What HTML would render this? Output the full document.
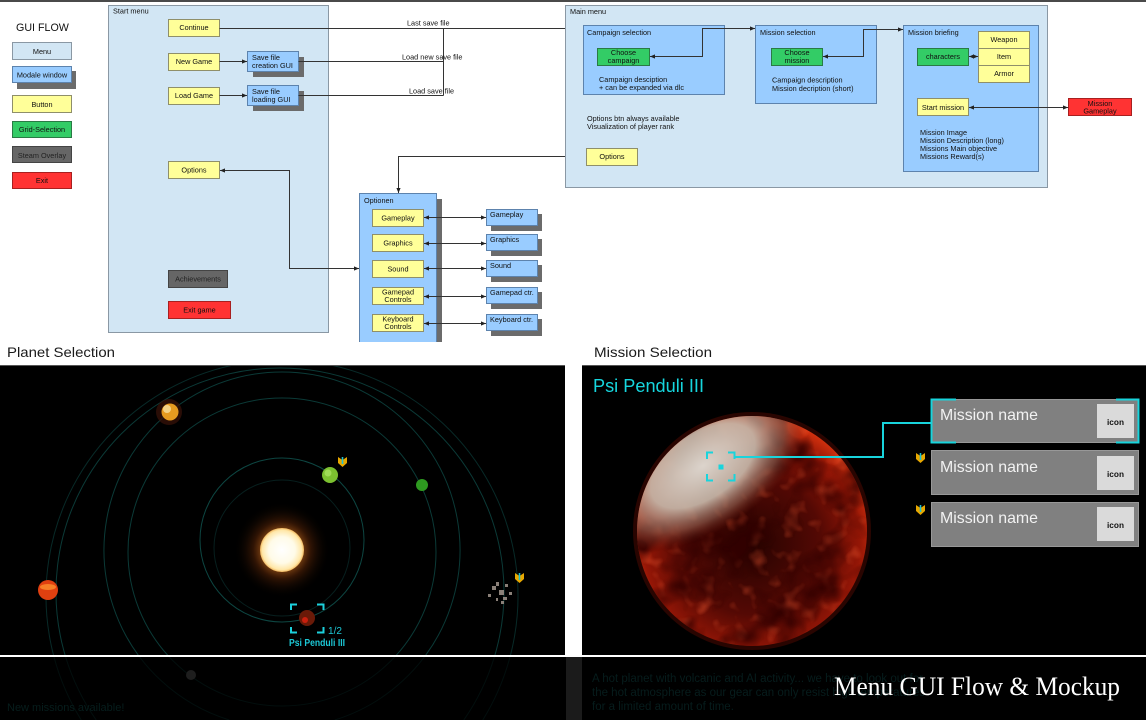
<!DOCTYPE html>
<html><head><meta charset="utf-8">
<style>
html,body{margin:0;padding:0;background:#fff;width:1146px;height:720px;overflow:hidden;}
svg{display:block;position:absolute;left:0;top:0;}
text{font-family:"Liberation Sans",Arial,sans-serif;}
.s{font-size:7.3px;fill:#111;}
.c{text-anchor:middle;}
.mn{fill:#d2e6f4;stroke:#8a98a4;stroke-width:1;}
.md{fill:#99ccff;stroke:#5d83ad;stroke-width:1;}
.sh{fill:#6b6b6b;}
.bt{fill:#ffff99;stroke:#8f8f6a;stroke-width:1;}
.gr{fill:#33cc66;stroke:#2a7a45;stroke-width:1;}
.st{fill:#666;stroke:#444;stroke-width:1;}
.ex{fill:#ff3333;stroke:#a82020;stroke-width:1;}
.ln{fill:none;stroke:#333;stroke-width:1;}
.orb{fill:none;stroke:#0b3a37;stroke-width:1;}
</style></head><body>
<svg width="1146" height="720" viewBox="0 0 1146 720" xmlns="http://www.w3.org/2000/svg">
<defs>
<marker id="a" viewBox="0 0 6 6" refX="6" refY="3" markerWidth="5" markerHeight="5" markerUnits="userSpaceOnUse" orient="auto-start-reverse"><path d="M0,0.5 L6,3 L0,5.5z" fill="#222"/></marker>
<radialGradient id="sun" cx="0.5" cy="0.5" r="0.5">
<stop offset="0" stop-color="#ffffff"/><stop offset="0.6" stop-color="#fffbe8"/><stop offset="0.9" stop-color="#ffe7a8"/><stop offset="1" stop-color="#f2b860"/></radialGradient>
<radialGradient id="glow" cx="0.5" cy="0.5" r="0.5">
<stop offset="0.3" stop-color="#ff9a30" stop-opacity="0.7"/><stop offset="0.6" stop-color="#c05010" stop-opacity="0.25"/><stop offset="1" stop-color="#000" stop-opacity="0"/></radialGradient>
<radialGradient id="pg" cx="0.5" cy="0.56" r="0.55">
<stop offset="0" stop-color="#260301"/><stop offset="0.55" stop-color="#540904"/><stop offset="0.85" stop-color="#941606"/><stop offset="1" stop-color="#d0300e"/></radialGradient>
<radialGradient id="cap" cx="0.5" cy="0.5" r="0.5">
<stop offset="0" stop-color="#dcd4cc" stop-opacity="1"/><stop offset="0.5" stop-color="#c6b8aa" stop-opacity="0.92"/><stop offset="0.78" stop-color="#9a6e5c" stop-opacity="0.55"/><stop offset="1" stop-color="#7a2a18" stop-opacity="0"/></radialGradient>
<filter id="texD" x="0" y="0" width="1" height="1"><feTurbulence type="fractalNoise" baseFrequency="0.025" numOctaves="3" seed="2"/><feColorMatrix values="0 0 0 0 0.03  0 0 0 0 0  0 0 0 0 0  3 0 0 0 -1.3"/><feComposite in2="SourceGraphic" operator="in"/></filter>
<filter id="texR" x="0" y="0" width="1" height="1"><feTurbulence type="fractalNoise" baseFrequency="0.06" numOctaves="2" seed="7"/><feColorMatrix values="0 0 0 0 0.85  0 0 0 0 0.1  0 0 0 0 0.03  2.4 0 0 0 -1.3"/><feComposite in2="SourceGraphic" operator="in"/></filter>
<clipPath id="pl"><rect x="0" y="366" width="565" height="289"/></clipPath>
<clipPath id="bl"><rect x="0" y="657" width="565" height="63"/></clipPath>
<clipPath id="pc"><circle cx="752" cy="531" r="115"/></clipPath>
</defs>

<!-- top border -->
<rect x="0" y="0" width="1146" height="2" fill="#4a4a4a"/>

<!-- Legend -->
<text x="16" y="31" font-size="10.7" fill="#111">GUI FLOW</text>
<rect class="mn" x="12.5" y="42.5" width="59" height="17"/><text class="s c" x="42" y="54">Menu</text>
<rect class="sh" x="17" y="71" width="59" height="18"/>
<rect class="md" x="12.5" y="66.5" width="59" height="16"/><text class="s c" x="42" y="77.5">Modale window</text>
<rect class="bt" x="12.5" y="95.5" width="59" height="17"/><text class="s c" x="42" y="107">Button</text>
<rect class="gr" x="12.5" y="121.5" width="59" height="16"/><text class="s c" x="42" y="132">Grid-Selection</text>
<rect class="st" x="12.5" y="146.5" width="59" height="16"/><text class="s c" x="42" y="158" style="fill:#222">Steam Overlay</text>
<rect class="ex" x="12.5" y="172.5" width="59" height="16"/><text class="s c" x="42" y="183">Exit</text>

<!-- Start menu -->
<rect class="mn" x="108.5" y="5.5" width="220" height="327"/>
<text class="s" x="113" y="13.5">Start menu</text>
<rect class="bt" x="168.5" y="19.5" width="51" height="17"/><text class="s c" x="194" y="30">Continue</text>
<rect class="bt" x="168.5" y="53.5" width="51" height="17"/><text class="s c" x="194" y="64">New Game</text>
<rect class="bt" x="168.5" y="87.5" width="51" height="17"/><text class="s c" x="194" y="98">Load Game</text>
<rect class="sh" x="253" y="57" width="51" height="20"/>
<rect class="md" x="247.5" y="51.5" width="51" height="20"/>
<text class="s" x="252" y="60">Save file</text><text class="s" x="252" y="68">creation GUI</text>
<rect class="sh" x="253" y="91" width="51" height="20"/>
<rect class="md" x="247.5" y="85.5" width="51" height="20"/>
<text class="s" x="252" y="94">Save file</text><text class="s" x="252" y="102">loading GUI</text>
<rect class="bt" x="168.5" y="161.5" width="51" height="17"/><text class="s c" x="194" y="172.5">Options</text>
<rect class="st" x="168.5" y="270.5" width="59" height="17"/><text class="s c" x="198" y="281.5" style="fill:#222">Achievements</text>
<rect class="ex" x="168.5" y="301.5" width="62" height="17"/><text class="s c" x="199.5" y="312.5">Exit game</text>

<!-- Connectors start menu -->
<path class="ln" d="M219.5,28.5 H583" marker-end="url(#a)"/>
<path class="ln" d="M219.5,61.5 H247" marker-end="url(#a)"/>
<path class="ln" d="M219.5,95.5 H247" marker-end="url(#a)"/>
<path class="ln" d="M298.5,61.5 H443.5 M298.5,95.5 H443.5 M443.5,28.5 V95.5"/>
<text class="s" x="407" y="25.5">Last save file</text>
<text class="s" x="402" y="59.5">Load new save file</text>
<text class="s" x="409" y="93.5">Load save file</text>
<path class="ln" d="M220,170.5 H289.5 V268.5 H359" marker-start="url(#a)" marker-end="url(#a)"/>
<path class="ln" d="M586,156.5 H398.5 V193" marker-start="url(#a)" marker-end="url(#a)"/>

<!-- Optionen -->
<rect class="sh" x="365" y="199" width="77" height="143"/>
<path d="M359.5,342 V193.5 H436.5 V342" fill="#99ccff" stroke="#5d83ad"/>
<text class="s" x="364" y="203">Optionen</text>
<rect class="bt" x="372.5" y="209.5" width="51" height="17"/><text class="s c" x="398" y="220.5">Gameplay</text>
<rect class="bt" x="372.5" y="234.5" width="51" height="17"/><text class="s c" x="398" y="245.5">Graphics</text>
<rect class="bt" x="372.5" y="260.5" width="51" height="17"/><text class="s c" x="398" y="271.5">Sound</text>
<rect class="bt" x="372.5" y="287.5" width="51" height="17"/><text class="s c" x="398" y="294.5">Gamepad</text><text class="s c" x="398" y="302">Controls</text>
<rect class="bt" x="372.5" y="314.5" width="51" height="17"/><text class="s c" x="398" y="321.5">Keyboard</text><text class="s c" x="398" y="329">Controls</text>
<g>
<rect class="sh" x="491" y="214" width="51" height="17"/><rect class="md" x="486.5" y="209.5" width="51" height="16"/><text class="s" x="490" y="217">Gameplay</text>
<rect class="sh" x="491" y="239" width="51" height="17"/><rect class="md" x="486.5" y="234.5" width="51" height="16"/><text class="s" x="490" y="242">Graphics</text>
<rect class="sh" x="491" y="265" width="51" height="17"/><rect class="md" x="486.5" y="260.5" width="51" height="16"/><text class="s" x="490" y="268">Sound</text>
<rect class="sh" x="491" y="292" width="51" height="17"/><rect class="md" x="486.5" y="287.5" width="51" height="16"/><text class="s" x="490" y="295">Gamepad ctr.</text>
<rect class="sh" x="491" y="319" width="51" height="17"/><rect class="md" x="486.5" y="314.5" width="51" height="16"/><text class="s" x="490" y="322">Keyboard ctr.</text>
</g>
<path class="ln" d="M424,217.5 H486" marker-start="url(#a)" marker-end="url(#a)"/>
<path class="ln" d="M424,243.5 H486" marker-start="url(#a)" marker-end="url(#a)"/>
<path class="ln" d="M424,268.5 H486" marker-start="url(#a)" marker-end="url(#a)"/>
<path class="ln" d="M424,296.5 H486" marker-start="url(#a)" marker-end="url(#a)"/>
<path class="ln" d="M424,323.5 H486" marker-start="url(#a)" marker-end="url(#a)"/>

<!-- Main menu -->
<rect class="mn" x="565.5" y="5.5" width="482" height="182"/>
<text class="s" x="570" y="14">Main menu</text>
<rect class="md" x="583.5" y="25.5" width="141" height="69"/>
<text class="s" x="587" y="35">Campaign selection</text>
<rect class="gr" x="597.5" y="48.5" width="52" height="17"/>
<text class="s c" x="623.5" y="55">Choose</text><text class="s c" x="623.5" y="63">campaign</text>
<text class="s" x="599" y="82">Campaign desciption</text>
<text class="s" x="599" y="90">+ can be expanded via dlc</text>
<text class="s" x="587" y="121">Options btn always available</text>
<text class="s" x="587" y="129">Visualization of player rank</text>
<rect class="bt" x="586.5" y="148.5" width="51" height="17"/><text class="s c" x="612" y="159">Options</text>
<path class="ln" d="M755,28.5 H702.5 V56.5 H650" marker-start="url(#a)" marker-end="url(#a)"/>

<rect class="md" x="755.5" y="25.5" width="121" height="78"/>
<text class="s" x="760" y="35">Mission selection</text>
<rect class="gr" x="771.5" y="48.5" width="51" height="17"/>
<text class="s c" x="797" y="55">Choose</text><text class="s c" x="797" y="63">mission</text>
<text class="s" x="772" y="82.5">Campaign description</text>
<text class="s" x="772" y="91">Mission decription (short)</text>
<path class="ln" d="M903,29.5 H863.5 V56.5 H823" marker-start="url(#a)" marker-end="url(#a)"/>

<rect class="md" x="903.5" y="25.5" width="135" height="146"/>
<text class="s" x="908" y="35">Mission briefing</text>
<rect class="gr" x="917.5" y="48.5" width="51" height="17"/><text class="s c" x="943" y="59">characters</text>
<rect class="bt" x="978.5" y="31.5" width="51" height="17"/><text class="s c" x="1004" y="42">Weapon</text>
<rect class="bt" x="978.5" y="48.5" width="51" height="17"/><text class="s c" x="1004" y="59">Item</text>
<rect class="bt" x="978.5" y="65.5" width="51" height="17"/><text class="s c" x="1004" y="76">Armor</text>
<path class="ln" d="M969,56.5 H978" marker-start="url(#a)" marker-end="url(#a)"/>
<rect class="bt" x="917.5" y="98.5" width="51" height="17"/><text class="s c" x="943" y="110">Start mission</text>
<text class="s" x="920" y="135">Mission Image</text>
<text class="s" x="920" y="143">Mission Description (long)</text>
<text class="s" x="920" y="151">Missions Main objective</text>
<text class="s" x="920" y="159">Missions Reward(s)</text>
<rect class="ex" x="1068.5" y="98.5" width="63" height="17"/>
<text class="s c" x="1100" y="106">Mission</text><text class="s c" x="1100" y="113.5">Gameplay</text>
<path class="ln" d="M969,107.5 H1068" marker-start="url(#a)" marker-end="url(#a)"/>

<!-- Headings -->
<text x="7" y="357" font-size="14" fill="#1a1a1a" textLength="108" lengthAdjust="spacingAndGlyphs">Planet Selection</text>
<text x="594" y="357" font-size="14" fill="#1a1a1a" textLength="118" lengthAdjust="spacingAndGlyphs">Mission Selection</text>

<!-- Planet panel -->
<rect x="0" y="365" width="565" height="290" fill="#000"/>
<rect x="0" y="365" width="565" height="1" fill="#555"/>
<g clip-path="url(#pl)">
<circle class="orb" cx="282" cy="540" r="82" style="stroke:#0d4642"/>
<circle class="orb" cx="282" cy="548" r="68" style="stroke:#071f1e"/>
<circle class="orb" cx="282" cy="552" r="154"/>
<path class="orb" d="M229.2,720 A178,178 0 1 1 334.8,720"/>
<path class="orb" d="M96.2,720 A224,224 0 1 1 463.8,720"/>
<path class="orb" style="stroke:#082a28" d="M81.2,720 A236,236 0 1 1 482.8,720"/>
<circle cx="282" cy="550" r="48" fill="url(#glow)"/>
<circle cx="282" cy="550" r="22" fill="url(#sun)"/>
<!-- planets -->
<circle cx="169" cy="412" r="13" fill="#3a1208" opacity="0.7"/>
<circle cx="170" cy="412" r="8.5" fill="#e69a20"/>
<circle cx="167" cy="409" r="4" fill="#f8e0a0" opacity="0.8"/>
<circle cx="330" cy="475" r="8" fill="#7cc030"/>
<circle cx="328" cy="473" r="3.5" fill="#a8e060" opacity="0.8"/>
<circle cx="422" cy="485" r="6" fill="#2e9a20"/>
<circle cx="48" cy="590" r="10" fill="#e04010"/>
<ellipse cx="48" cy="587" rx="8" ry="3" fill="#ff9a30" opacity="0.7"/>
<g fill="#8a8078">
<rect x="492" y="586" width="4" height="4"/><rect x="499" y="590" width="5" height="5"/><rect x="505" y="584" width="3" height="3"/><rect x="488" y="594" width="3" height="3"/><rect x="503" y="597" width="4" height="3"/><rect x="496" y="582" width="3" height="4"/><rect x="509" y="592" width="3" height="3"/><rect x="496" y="598" width="2" height="3"/><rect x="501" y="601" width="3" height="3"/></g>
<circle cx="307" cy="618" r="8" fill="#6a1a08"/>
<circle cx="305" cy="620" r="3" fill="#e02010" opacity="0.8"/>
<g fill="none" stroke="#1cd0dc" stroke-width="2">
<path d="M291,610 V604.5 H297 M317,604.5 H323.5 V610 M291,627 V632.5 H297 M317,632.5 H323.5 V627"/></g>
<text x="328" y="634" font-size="10" fill="#1cc8d6" textLength="14" lengthAdjust="spacingAndGlyphs">1/2</text>
<text x="289" y="646" font-size="10" font-weight="bold" fill="#1cc8d6" textLength="56" lengthAdjust="spacingAndGlyphs">Psi Penduli III</text>
<g transform="translate(338,457)"><path d="M0,0 L4.5,3 L9,0 L9,6 L4.5,10 L0,6z" fill="#e8a800"/><rect x="3.7" y="0" width="1.6" height="7" fill="#20c0d0"/></g>
<g transform="translate(515,573)"><path d="M0,0 L4.5,3 L9,0 L9,6 L4.5,10 L0,6z" fill="#e8a800"/><rect x="3.7" y="0" width="1.6" height="7" fill="#20c0d0"/></g>
</g>

<!-- Mission panel -->
<rect x="582" y="365" width="564" height="290" fill="#000"/>
<rect x="582" y="365" width="564" height="1" fill="#555"/>
<text x="593" y="392" font-size="18" fill="#16d6de" textLength="111" lengthAdjust="spacingAndGlyphs">Psi Penduli III</text>
<circle cx="752" cy="531" r="119" fill="#5a0a02" opacity="0.45"/>
<circle cx="752" cy="531" r="115" fill="url(#pg)"/>
<g clip-path="url(#pc)">
<rect x="637" y="416" width="230" height="230" fill="#fff" filter="url(#texR)" opacity="0.6"/>
<rect x="637" y="416" width="230" height="230" fill="#fff" filter="url(#texD)" opacity="0.9"/>
<ellipse cx="703" cy="466" rx="118" ry="64" transform="rotate(-34 703 466)" fill="url(#cap)"/>
</g>
<g fill="none" stroke="#18d4dc" stroke-width="2">
<path d="M707,459 V452.5 H713 M728,452.5 H734.5 V459 M707,474 V480.5 H713 M728,480.5 H734.5 V474"/>
<path d="M735,457 H883 V423 H931"/>
</g>
<rect x="718.5" y="464.5" width="5" height="5" fill="#18d4dc"/>

<rect x="931.5" y="399.5" width="207" height="43" fill="#808080" stroke="#989898"/>
<path d="M956,399.5 H931.5 V442.5 H956 M1116,399.5 H1138.5 V442.5 H1116" fill="none" stroke="#18d4dc" stroke-width="2"/>
<text x="940" y="420" font-size="16" fill="#f2f2f2" textLength="98" lengthAdjust="spacingAndGlyphs">Mission name</text>
<rect x="1097" y="404" width="37" height="34" fill="#dadada"/>
<text x="1107" y="425" font-size="8.5" font-weight="bold" fill="#111" textLength="17" lengthAdjust="spacingAndGlyphs">icon</text>

<rect x="931.5" y="450.5" width="207" height="44" fill="#808080" stroke="#989898"/>
<text x="940" y="472" font-size="16" fill="#f2f2f2" textLength="98" lengthAdjust="spacingAndGlyphs">Mission name</text>
<rect x="1097" y="456" width="37" height="34" fill="#dadada"/>
<text x="1107" y="477" font-size="8.5" font-weight="bold" fill="#111" textLength="17" lengthAdjust="spacingAndGlyphs">icon</text>

<rect x="931.5" y="502.5" width="207" height="44" fill="#808080" stroke="#989898"/>
<text x="940" y="523" font-size="16" fill="#f2f2f2" textLength="98" lengthAdjust="spacingAndGlyphs">Mission name</text>
<rect x="1097" y="507" width="37" height="34" fill="#dadada"/>
<text x="1107" y="528" font-size="8.5" font-weight="bold" fill="#111" textLength="17" lengthAdjust="spacingAndGlyphs">icon</text>

<g transform="translate(916,453)"><path d="M0,0 L4.5,3 L9,0 L9,6 L4.5,10 L0,6z" fill="#e8a800"/><rect x="3.7" y="0" width="1.6" height="7" fill="#20c0d0"/></g>
<g transform="translate(916,505)"><path d="M0,0 L4.5,3 L9,0 L9,6 L4.5,10 L0,6z" fill="#e8a800"/><rect x="3.7" y="0" width="1.6" height="7" fill="#20c0d0"/></g>

<!-- Bottom band -->
<rect x="0" y="655" width="1146" height="2" fill="#fff"/>
<rect x="0" y="657" width="1146" height="63" fill="#000"/>
<rect x="566" y="657" width="16" height="63" fill="#1b1b1b"/>
<g clip-path="url(#bl)" opacity="0.25">
<path class="orb" d="M229.2,720 A178,178 0 1 1 334.8,720"/>
<path class="orb" d="M96.2,720 A224,224 0 1 1 463.8,720"/>
<path class="orb" d="M81.2,720 A236,236 0 1 1 482.8,720"/>
<circle class="orb" cx="282" cy="552" r="154"/>
</g>
<circle cx="191" cy="675" r="5" fill="#1e1e1e"/>
<text x="7" y="711" font-size="11" fill="#061d1c">New missions available!</text>
<text x="592" y="682" font-size="11.5" fill="#061c1c">A hot planet with volcanic  and AI activity... we have to look out for</text>
<text x="592" y="696" font-size="11.5" fill="#061c1c">the hot atmosphere as our gear can only resist high temperatures</text>
<text x="592" y="710" font-size="11.5" fill="#061c1c">for a limited amount of time.</text>
<text x="834" y="695" font-size="26" fill="#ffffff" style="font-family:'Liberation Serif','Times New Roman',serif" textLength="286" lengthAdjust="spacingAndGlyphs">Menu GUI Flow &amp; Mockup</text>
</svg>
</body></html>
